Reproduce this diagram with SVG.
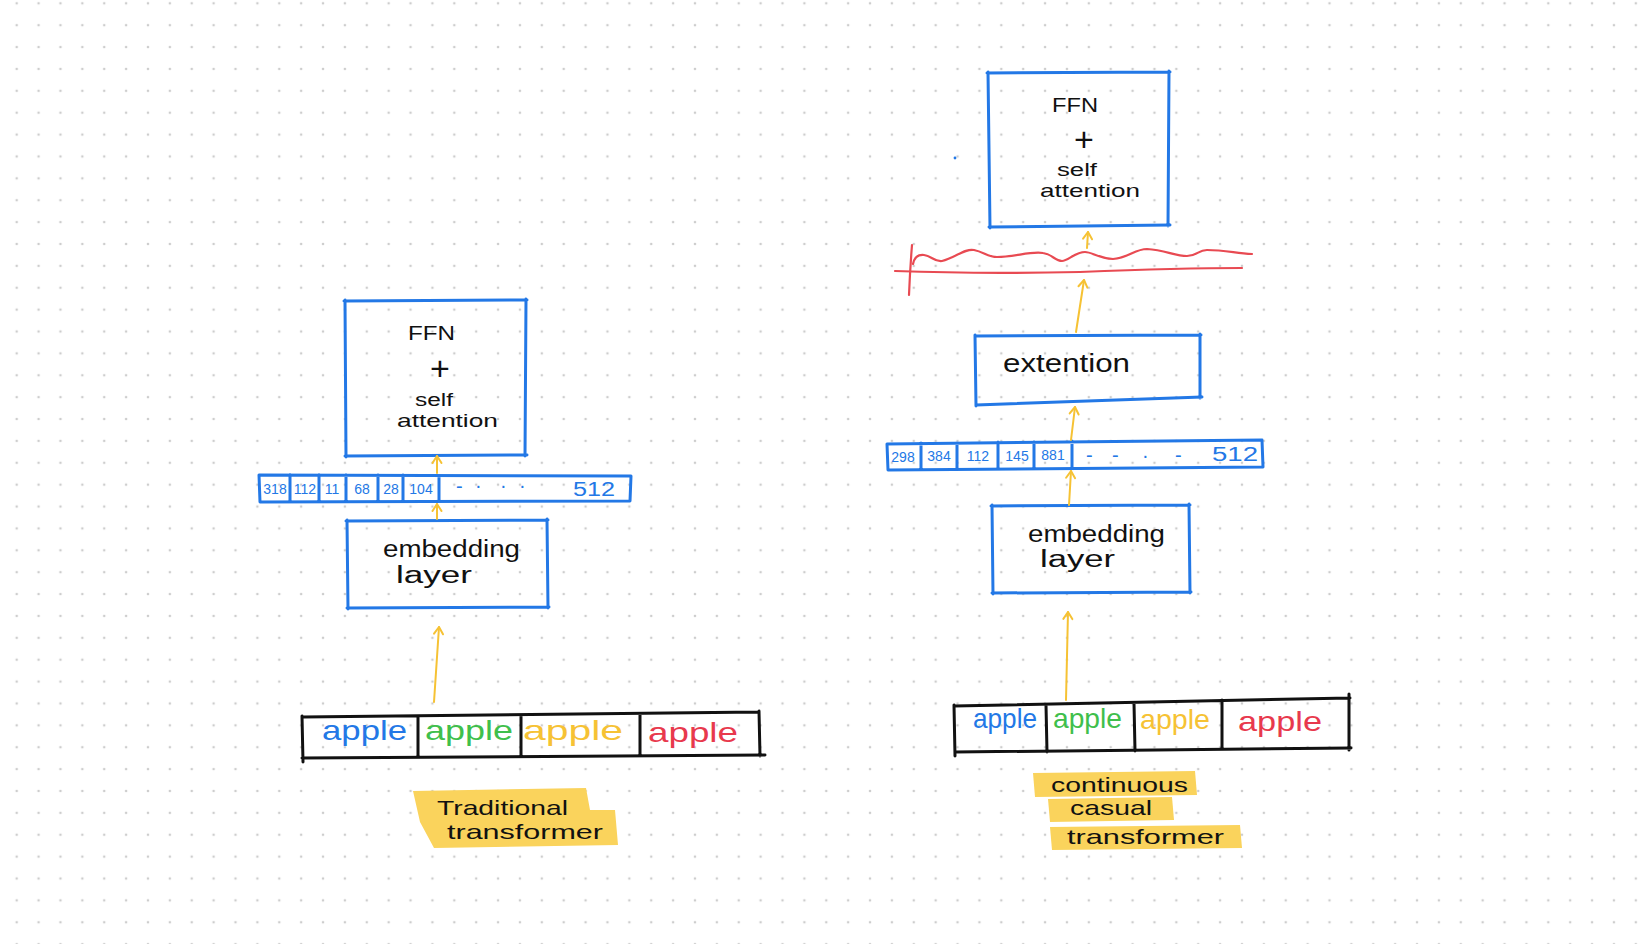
<svg xmlns="http://www.w3.org/2000/svg" width="1640" height="944" viewBox="0 0 1640 944">
<defs>
<pattern id="dots" x="5.76" y="-7.64" width="21.88" height="21.88" patternUnits="userSpaceOnUse">
<circle cx="10.94" cy="10.94" r="1.3" fill="#cdcdcd"/>
</pattern>
<marker id="chev" markerWidth="20" markerHeight="20" refX="0" refY="0" viewBox="-10 -10 20 20" orient="auto" markerUnits="userSpaceOnUse">
<path d="M-7,-4.5 L0,0 L-7,4.5" fill="none" stroke="#f6c234" stroke-width="2" stroke-linecap="round" stroke-linejoin="round"/>
</marker>
<style>
.box{fill:none;stroke:#2378e6;stroke-width:3;stroke-linecap:round;stroke-linejoin:round}
.row{fill:none;stroke:#111;stroke-width:3;stroke-linecap:round;stroke-linejoin:round}
.arr{fill:none;stroke:#f6c234;stroke-width:2;stroke-linecap:round;marker-end:url(#chev)}
.red{fill:none;stroke:#e84a52;stroke-width:2.2;stroke-linecap:round}
.hw{font-family:"Liberation Sans","DejaVu Sans",sans-serif;fill:#111}
.num{font-family:"Liberation Sans","DejaVu Sans",sans-serif;fill:#2378e6;font-size:14px;text-anchor:middle}
.big{font-family:"Liberation Sans","DejaVu Sans",sans-serif;fill:#2378e6;font-size:20px}
.ap{font-family:"Liberation Sans","DejaVu Sans",sans-serif;font-size:28px}
.hl{fill:#fad35c}
</style>
</defs>
<rect width="1640" height="944" fill="#ffffff"/>
<rect width="1640" height="944" fill="url(#dots)"/>

<!-- Left side -->
<g id="left-ffn">
<path class="box" d="M344,301 L527,300 M526,299 L525,456 M527,455 L345,456 M346,457 L345,300"/>
<text class="hw" x="408" y="340" font-size="20" textLength="47" lengthAdjust="spacingAndGlyphs">FFN</text>
<text class="hw" x="440" y="380" font-size="34" text-anchor="middle">+</text>
<text class="hw" x="415" y="406" font-size="18" textLength="38" lengthAdjust="spacingAndGlyphs">self</text>
<text class="hw" x="397" y="427" font-size="19" textLength="101" lengthAdjust="spacingAndGlyphs">attention</text>
</g>

<g id="left-tokens">
<path class="box" d="M259,475 L631,476 L630,501 L260,502 Z M290,475 L290,501 M319,475 L319,501 M346,475 L346,501 M378,475 L378,501 M403,475 L403,501 M439,476 L439,501"/>
<text class="num" x="275" y="494">318</text>
<text class="num" x="305" y="494">112</text>
<text class="num" x="332" y="494">11</text>
<text class="num" x="362" y="494">68</text>
<text class="num" x="391" y="494">28</text>
<text class="num" x="421" y="494">104</text>
<text class="big" x="456" y="493">-</text>
<text class="big" x="475" y="492">·</text>
<text class="big" x="500" y="492">·</text>
<text class="big" x="519" y="492">·</text>
<text class="big" x="573" y="496" textLength="42" lengthAdjust="spacingAndGlyphs">512</text>
</g>

<g id="left-embedding">
<path class="box" d="M346,521 L548,520 M547,519 L548,608 M549,607 L347,608 M348,609 L347,520"/>
<text class="hw" x="383" y="557" font-size="23" textLength="137" lengthAdjust="spacingAndGlyphs">embedding</text>
<text class="hw" x="396" y="583" font-size="23" textLength="76" lengthAdjust="spacingAndGlyphs">layer</text>
</g>

<g id="left-input">
<path class="row" d="M303,717 L759,712 M759,711 L760,756 M765,755 L302,758 M302,716 L303,762 M418,716 L418,757 M521,715 L521,756 M640,714 L640,756"/>
<text class="ap" x="322" y="740" fill="#2378e6" textLength="85" lengthAdjust="spacingAndGlyphs">apple</text>
<text class="ap" x="425" y="740" fill="#3fbf4c" textLength="88" lengthAdjust="spacingAndGlyphs">apple</text>
<text class="ap" x="523" y="740" fill="#f6c234" textLength="100" lengthAdjust="spacingAndGlyphs">apple</text>
<text class="ap" x="648" y="742" fill="#e8394d" textLength="90" lengthAdjust="spacingAndGlyphs">apple</text>
</g>

<g id="left-label">
<path class="hl" d="M413,791 L586,788 L590,810 L615,810 L618,845 L434,848 L420,822 Z"/>
<text class="hw" x="437" y="815" font-size="21" textLength="131" lengthAdjust="spacingAndGlyphs">Traditional</text>
<text class="hw" x="447" y="839" font-size="21" textLength="156" lengthAdjust="spacingAndGlyphs">transformer</text>
</g>

<!-- Right side -->
<g id="right-ffn">
<path class="box" d="M987,73 L1170,72 M1169,71 L1168,226 M1170,225 L989,227 M990,228 L988,72"/>
<text class="hw" x="1052" y="112" font-size="20" textLength="46" lengthAdjust="spacingAndGlyphs">FFN</text>
<text class="hw" x="1084" y="151" font-size="34" text-anchor="middle">+</text>
<text class="hw" x="1057" y="176" font-size="18" textLength="40" lengthAdjust="spacingAndGlyphs">self</text>
<text class="hw" x="1040" y="197" font-size="19" textLength="100" lengthAdjust="spacingAndGlyphs">attention</text>
<circle cx="955" cy="158" r="1.4" fill="#2378e6"/>
</g>

<g id="right-cut">
<path class="red" d="M912,245 Q910,270 909,295"/>
<path class="red" d="M913,264 Q915,254 924,255 C932,256 934,262 942,261 C955,258 965,248 974,250 C984,252 988,257 997,257 C1015,257 1030,251 1043,253 C1052,254 1055,261 1062,261 C1068,261 1075,252 1085,252 C1092,252 1098,258 1113,259 C1128,258 1135,249 1147,249 C1165,250 1175,256 1187,256 C1197,256 1198,250 1207,250 C1225,250 1235,253 1252,254"/>
<path class="red" d="M895,271 C950,273 1030,273 1080,272 C1130,270 1200,268 1242,268"/>
</g>

<g id="right-extension">
<path class="box" d="M975,336 L1201,335 M1200,334 L1200,398 M1202,397 L976,405 M976,406 L975,335"/>
<text class="hw" x="1003" y="372" font-size="26" textLength="127" lengthAdjust="spacingAndGlyphs">extention</text>
</g>

<g id="right-tokens">
<path class="box" d="M887,444 L1262,440 L1263,467 L888,470 Z M921,443 L921,469 M957,443 L957,469 M998,442 L998,468 M1034,442 L1034,468 M1072,441 L1072,468"/>
<text class="num" x="903" y="462">298</text>
<text class="num" x="939" y="461">384</text>
<text class="num" x="978" y="461">112</text>
<text class="num" x="1017" y="461">145</text>
<text class="num" x="1053" y="460">881</text>
<text class="big" x="1086" y="462">-</text>
<text class="big" x="1112" y="462">-</text>
<text class="big" x="1142" y="462">·</text>
<text class="big" x="1175" y="462">-</text>
<text class="big" x="1212" y="461" textLength="46" lengthAdjust="spacingAndGlyphs">512</text>
</g>

<g id="right-embedding">
<path class="box" d="M991,506 L1190,505 M1189,504 L1190,593 M1191,592 L992,593 M993,594 L992,505"/>
<text class="hw" x="1028" y="542" font-size="23" textLength="137" lengthAdjust="spacingAndGlyphs">embedding</text>
<text class="hw" x="1040" y="567" font-size="23" textLength="75" lengthAdjust="spacingAndGlyphs">layer</text>
</g>

<g id="right-input">
<path class="row" d="M954,706 L1350,698 M1349,694 L1349,750 M1351,748 L955,752 M954,705 L955,756 M1046,705 L1047,752 M1134,703 L1135,751 M1222,700 L1222,749"/>
<text class="ap" x="973" y="728" font-size="26" fill="#2378e6" textLength="64" lengthAdjust="spacingAndGlyphs">apple</text>
<text class="ap" x="1053" y="728" font-size="26" fill="#3fbf4c" textLength="69" lengthAdjust="spacingAndGlyphs">apple</text>
<text class="ap" x="1140" y="729" font-size="26" fill="#f6c234" textLength="70" lengthAdjust="spacingAndGlyphs">apple</text>
<text class="ap" x="1238" y="731" font-size="26" fill="#e8394d" textLength="84" lengthAdjust="spacingAndGlyphs">apple</text>
</g>

<g id="right-label">
<path class="hl" d="M1033,773 L1195,771 L1197,795 L1035,797 Z"/>
<path class="hl" d="M1048,799 L1172,797 L1174,820 L1050,822 Z"/>
<path class="hl" d="M1050,827 L1240,825 L1242,848 L1052,850 Z"/>
<text class="hw" x="1051" y="792" font-size="21" textLength="137" lengthAdjust="spacingAndGlyphs">continuous</text>
<text class="hw" x="1070" y="815" font-size="21" textLength="82" lengthAdjust="spacingAndGlyphs">casual</text>
<text class="hw" x="1067" y="844" font-size="21" textLength="157" lengthAdjust="spacingAndGlyphs">transformer</text>
</g>

<g id="connectors">
<path class="arr" d="M434,702 L439,627"/>
<path class="arr" d="M437,519 L437,504"/>
<path class="arr" d="M437,473 L437,456"/>
<path class="arr" d="M1066,700 L1068,612"/>
<path class="arr" d="M1069,505 L1071,471"/>
<path class="arr" d="M1071,440 L1075,407"/>
<path class="arr" d="M1076,332 L1084,280"/>
<path class="arr" d="M1087,248 L1088,232"/>
</g>
</svg>
